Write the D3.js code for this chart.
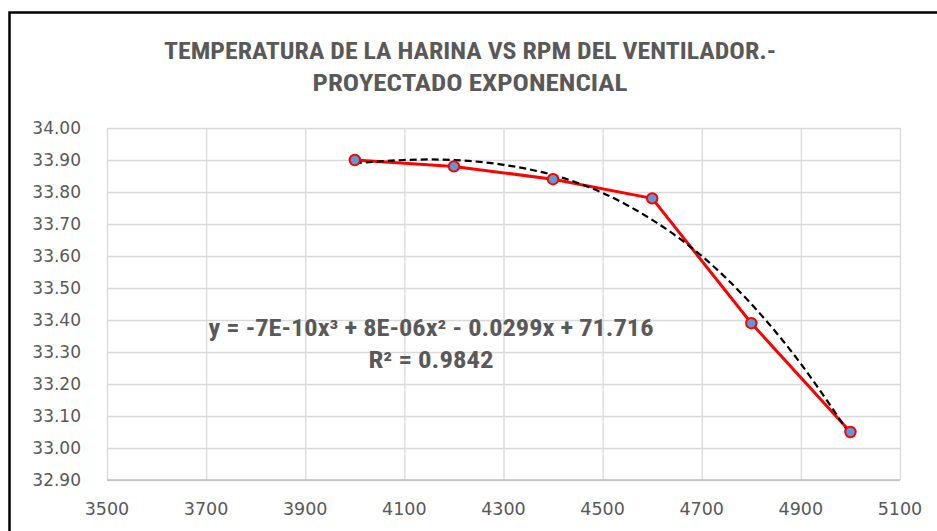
<!DOCTYPE html>
<html>
<head>
<meta charset="utf-8">
<title>Temperatura de la harina vs RPM</title>
<script src="https://d3js.org/d3.v7.min.js"></script>
<style>
  body { margin: 0; background: #fff; }
  svg text { fill: #595959; }
</style>
</head>
<body>
<script>
// datos
var rpm = [4000, 4200, 4400, 4600, 4800, 5000];
var temperatura = [33.90, 33.88, 33.84, 33.78, 33.39, 33.05];

// linea de tendencia (polinomica)
var tendX = [4000, 4100, 4200, 4300, 4400, 4500, 4600, 4700, 4800, 4900, 5000];
var tendY = [33.89, 33.90, 33.90, 33.885, 33.853, 33.797, 33.713, 33.60, 33.45, 33.263, 33.04];

var xTicks = [3500, 3700, 3900, 4100, 4300, 4500, 4700, 4900, 5100];
var yTicks = [32.9, 33.0, 33.1, 33.2, 33.3, 33.4, 33.5, 33.6, 33.7, 33.8, 33.9, 34.0];

var tituloLineas = ["TEMPERATURA DE LA HARINA VS RPM DEL VENTILADOR.-", "PROYECTADO EXPONENCIAL"];
var ecuacion = "y = -7E-10x³ + 8E-06x² - 0.0299x + 71.716";
var r2 = "R² = 0.9842";

var width = 937, height = 531;
var mLeft = 107, mRight = 900, mTop = 128, mBottom = 480;
var fuenteNegrita = "'Roboto Condensed', 'Liberation Sans Narrow', 'Arial Narrow', sans-serif";

var svg = d3.select("body").append("svg")
    .attr("width", width)
    .attr("height", height);

// borde del grafico
svg.append("rect")
    .attr("x", 9.5).attr("y", 12.5)
    .attr("width", 960).attr("height", 560)
    .attr("fill", "#fff")
    .attr("stroke", "#000")
    .attr("stroke-width", 2.5);

var x = d3.scaleLinear().domain([3500, 5100]).range([mLeft, mRight]);
var y = d3.scaleLinear().domain([32.9, 34.0]).range([mBottom, mTop]);

// rejilla
svg.append("g")
    .attr("transform", "translate(0," + mBottom + ")")
    .call(d3.axisBottom(x).tickValues(xTicks).tickSize(-(mBottom - mTop)).tickFormat(""))
    .call(function(g){ g.select(".domain").remove(); })
    .selectAll("line").attr("stroke", "#d9d9d9").attr("stroke-width", 1.3);

svg.append("g")
    .attr("transform", "translate(" + mLeft + ",0)")
    .call(d3.axisLeft(y).tickValues(yTicks).tickSize(-(mRight - mLeft)).tickFormat(""))
    .call(function(g){ g.select(".domain").remove(); })
    .selectAll("line").attr("stroke", "#d9d9d9").attr("stroke-width", 1.3);

// linea base del eje
svg.append("line")
    .attr("x1", mLeft).attr("x2", mRight)
    .attr("y1", mBottom).attr("y2", mBottom)
    .attr("stroke", "#bfbfbf").attr("stroke-width", 1.5);

// etiquetas de ejes
svg.append("g").selectAll("text")
    .data(yTicks)
    .enter().append("text")
    .attr("x", 81)
    .attr("y", function(d){ return y(d); })
    .attr("dy", "0.36em")
    .attr("text-anchor", "end")
    .style("font-family", "'DejaVu Sans', sans-serif")
    .style("font-size", "17px")
    .text(function(d){ return d.toFixed(2); });

svg.append("g").selectAll("text")
    .data(xTicks)
    .enter().append("text")
    .attr("x", function(d){ return x(d); })
    .attr("y", 509)
    .attr("dy", "0.36em")
    .attr("text-anchor", "middle")
    .style("font-family", "'DejaVu Sans', sans-serif")
    .style("font-size", "17.5px")
    .text(function(d){ return d; });

// titulo
var anchoTitulo = [612, 315];
svg.append("g").selectAll("text")
    .data(tituloLineas)
    .enter().append("text")
    .attr("x", 470)
    .attr("y", function(d, i){ return 59 + i * 32; })
    .attr("text-anchor", "middle")
    .attr("textLength", function(d, i){ return anchoTitulo[i]; })
    .attr("lengthAdjust", "spacingAndGlyphs")
    .style("font-family", fuenteNegrita)
    .style("font-weight", "bold")
    .style("font-size", "23px")
    .text(function(d){ return d; });

// serie
var pts = rpm.map(function(d, i){ return [d, temperatura[i]]; });
var tend = tendX.map(function(d, i){ return [d, tendY[i]]; });

svg.append("path")
    .datum(pts)
    .attr("fill", "none")
    .attr("stroke", "#ff0000")
    .attr("stroke-width", 3)
    .attr("stroke-linejoin", "round")
    .attr("d", d3.line().x(function(d){ return x(d[0]); }).y(function(d){ return y(d[1]); }));

svg.append("path")
    .datum(tend)
    .attr("fill", "none")
    .attr("stroke", "#000")
    .attr("stroke-width", 2.2)
    .attr("stroke-dasharray", "7,4")
    .attr("d", d3.line().curve(d3.curveNatural).x(function(d){ return x(d[0]); }).y(function(d){ return y(d[1]); }));

svg.append("g").selectAll("circle")
    .data(pts)
    .enter().append("circle")
    .attr("cx", function(d){ return x(d[0]); })
    .attr("cy", function(d){ return y(d[1]); })
    .attr("r", 5.2)
    .attr("fill", "#5b9bd5")
    .attr("stroke", "#ff0000")
    .attr("stroke-width", 2);

// ecuacion de tendencia
svg.append("text")
    .attr("x", 431).attr("y", 336)
    .attr("text-anchor", "middle")
    .attr("textLength", 445)
    .attr("lengthAdjust", "spacingAndGlyphs")
    .style("font-family", fuenteNegrita)
    .style("font-weight", "bold")
    .style("font-size", "23px")
    .text(ecuacion);

svg.append("text")
    .attr("x", 431).attr("y", 368)
    .attr("text-anchor", "middle")
    .attr("textLength", 125)
    .attr("lengthAdjust", "spacingAndGlyphs")
    .style("font-family", fuenteNegrita)
    .style("font-weight", "bold")
    .style("font-size", "23px")
    .text(r2);
</script>
</body>
</html>
